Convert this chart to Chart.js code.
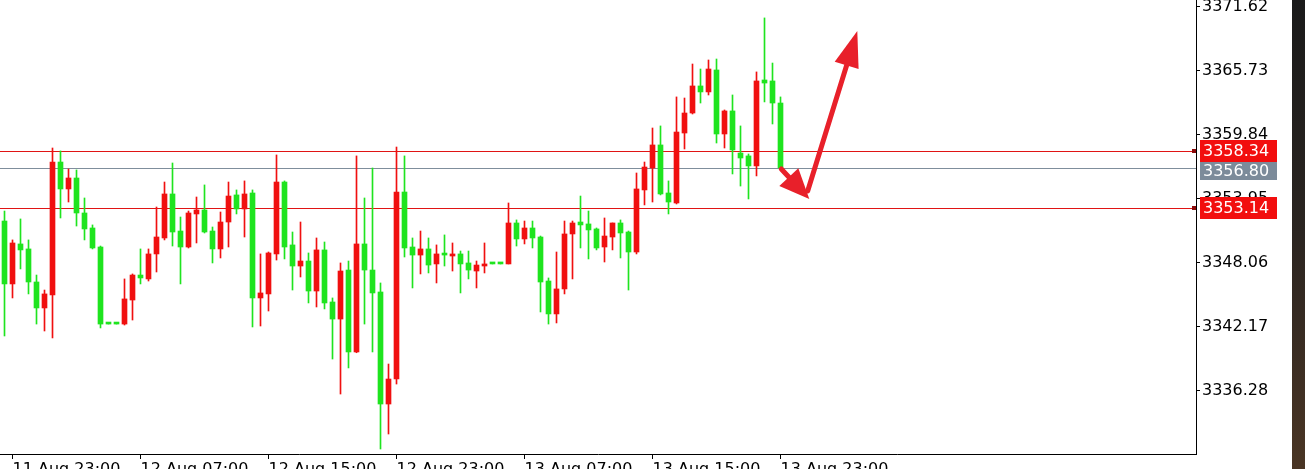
<!DOCTYPE html>
<html>
<head>
<meta charset="utf-8">
<script src="https://cdn.jsdelivr.net/npm/chart.js@4.4.0/dist/chart.umd.min.js"></script>
<style>
    html, body { margin: 0; padding: 0; background: #fff; overflow: hidden; width: 1305px; height: 469px; }
    #wrap { position: absolute; left: 0; top: 0; width: 1292px; height: 490px; }
    #edge { position: absolute; left: 1292px; top: 0; width: 13px; height: 469px;
            background: linear-gradient(#1a1a1a, #2b2521 50%, #4a3524); }
</style>
</head>
<body>
<div id="wrap"><canvas id="c" width="1292" height="490"></canvas></div>
<div id="edge"></div>
<script>
// XAUUSD M30, 11 Aug 22:30 -> 13 Aug 23:00
const opens = [
    3351.92, 3346.13, 3349.81, 3349.35, 3346.31, 3343.92, 3345.11, 3357.35, 3354.87, 3355.88,
    3352.66, 3351.28, 3349.53, 3342.44, 3342.44, 3342.44, 3344.65, 3346.95, 3346.59, 3348.89,
    3350.36, 3354.41, 3351.00, 3349.53, 3352.57, 3352.94, 3351.00, 3349.35, 3351.83, 3354.32,
    3353.03, 3354.50, 3344.84, 3345.21, 3348.89, 3355.51, 3349.72, 3347.78, 3348.24, 3345.48,
    3349.26, 3344.47, 3342.90, 3347.41, 3339.87, 3349.81, 3347.41, 3345.39, 3335.08, 3337.38,
    3354.59, 3349.53, 3348.79, 3349.35, 3347.97, 3348.89, 3348.70, 3348.89, 3348.06, 3347.32,
    3347.78, 3347.97, 3347.97, 3347.97, 3351.74, 3350.27, 3351.28, 3350.45, 3346.40, 3343.37,
    3345.67, 3350.73, 3351.83, 3351.65, 3351.19, 3349.53, 3350.45, 3351.74, 3350.91, 3349.07,
    3354.78, 3356.80, 3358.92, 3354.50, 3353.58, 3360.02, 3361.86, 3364.35, 3363.80, 3365.82,
    3359.93, 3362.05, 3358.18, 3357.91, 3356.99, 3364.90, 3364.81, 3362.78
];
const highs = [
    3352.84, 3350.18, 3352.11, 3350.18, 3346.95, 3345.57, 3358.64, 3358.37, 3356.71, 3356.62,
    3354.04, 3351.56, 3349.62, 3342.44, 3342.44, 3346.59, 3347.05, 3349.35, 3349.35, 3353.21,
    3355.51, 3357.26, 3352.29, 3352.84, 3354.13, 3355.24, 3351.37, 3352.75, 3355.51, 3354.78,
    3355.61, 3354.78, 3348.89, 3349.07, 3358.00, 3355.61, 3350.91, 3351.83, 3348.98, 3350.36,
    3349.99, 3344.84, 3348.06, 3348.24, 3357.91, 3354.04, 3356.80, 3346.22, 3338.76, 3358.73,
    3357.91, 3350.36, 3351.00, 3350.36, 3349.72, 3350.64, 3349.90, 3349.16, 3349.16, 3348.24,
    3349.90, 3347.97, 3347.97, 3353.58, 3352.02, 3351.92, 3351.92, 3350.54, 3346.68, 3349.07,
    3351.92, 3351.92, 3354.22, 3352.84, 3351.28, 3352.20, 3351.74, 3352.02, 3351.00, 3356.34,
    3357.35, 3360.48, 3360.67, 3355.61, 3363.34, 3363.24, 3366.37, 3365.91, 3366.74, 3366.83,
    3362.14, 3363.52, 3360.67, 3358.09, 3365.64, 3370.61, 3366.46, 3363.34
];
const lows = [
    3341.34, 3344.84, 3347.51, 3345.21, 3342.44, 3341.80, 3341.16, 3352.20, 3353.67, 3351.46,
    3350.18, 3349.35, 3342.08, 3342.44, 3342.44, 3342.35, 3342.81, 3346.13, 3346.40, 3347.23,
    3350.18, 3349.62, 3346.13, 3349.44, 3349.90, 3350.82, 3348.06, 3348.52, 3349.53, 3352.57,
    3350.45, 3342.17, 3342.26, 3343.64, 3348.33, 3348.43, 3345.57, 3346.77, 3344.38, 3344.01,
    3343.83, 3339.22, 3336.00, 3338.40, 3339.80, 3342.44, 3339.87, 3330.94, 3332.32, 3336.92,
    3348.61, 3345.76, 3347.05, 3347.14, 3346.22, 3347.78, 3347.32, 3345.30, 3346.59, 3345.76,
    3347.14, 3347.97, 3347.97, 3347.97, 3349.62, 3349.81, 3349.44, 3343.55, 3342.44, 3342.54,
    3345.21, 3346.59, 3349.44, 3348.43, 3349.26, 3348.15, 3349.26, 3348.52, 3345.57, 3348.89,
    3353.40, 3353.67, 3354.32, 3352.57, 3353.49, 3358.55, 3361.77, 3362.78, 3363.52, 3359.10,
    3358.64, 3356.25, 3355.14, 3353.95, 3356.07, 3362.88, 3360.85, 3356.80
];
const closes = [
    3346.13, 3349.90, 3349.26, 3346.31, 3343.92, 3345.21, 3357.35, 3354.87, 3355.88, 3352.66,
    3351.19, 3349.44, 3342.44, 3342.44, 3342.44, 3344.75, 3346.95, 3346.68, 3348.89, 3350.45,
    3354.41, 3350.91, 3349.53, 3352.66, 3352.94, 3350.91, 3349.35, 3351.83, 3354.22, 3353.03,
    3354.41, 3344.84, 3345.30, 3348.98, 3355.51, 3349.53, 3347.78, 3348.24, 3345.48, 3349.26,
    3344.38, 3342.90, 3347.32, 3339.87, 3349.81, 3347.41, 3345.30, 3335.08, 3337.38, 3354.59,
    3349.44, 3348.79, 3349.35, 3347.87, 3348.89, 3348.79, 3348.89, 3347.97, 3347.41, 3347.87,
    3347.97, 3347.97, 3347.97, 3351.74, 3350.27, 3351.28, 3350.36, 3346.31, 3343.37, 3345.67,
    3350.73, 3351.74, 3351.56, 3351.10, 3349.44, 3350.54, 3351.74, 3350.82, 3349.07, 3354.87,
    3356.89, 3358.92, 3354.41, 3353.67, 3360.11, 3361.86, 3364.35, 3363.80, 3365.91, 3359.93,
    3362.05, 3358.46, 3357.72, 3356.99, 3364.81, 3364.62, 3362.78, 3356.80
];

// axis labels
const tickIndex = [1, 17, 33, 49, 65, 81, 97];
const tickLabels = ['11 Aug 23:00', '12 Aug 07:00', '12 Aug 15:00', '12 Aug 23:00',
                    '13 Aug 07:00', '13 Aug 15:00', '13 Aug 23:00'];
const priceTicks = [3371.62, 3365.73, 3359.84, 3353.95, 3348.06, 3342.17, 3336.28];

// horizontal levels and the current bid
const redLevels = [3358.34, 3353.14];
const bidLevel = 3356.80;

// hand drawn arrows: [barIndex, price] start and tip
const arrowFrom = [[97.1, 3356.71], [100.4, 3354.68]];
const arrowTo = [[100.6, 3353.95], [106.6, 3369.41]];

const UP = '#f01010';
const DOWN = '#1fe41f';
const ARROW = '#e8202a';
const FONT = { family: 'DejaVu Sans', size: 16 };

const candleColors = opens.map((o, i) => closes[i] > o ? UP : DOWN);

function drawArrow(ctx, x1, y1, x2, y2, headLen, headW) {
    const a = Math.atan2(y2 - y1, x2 - x1);
    const bx = x2 - Math.cos(a) * headLen, by = y2 - Math.sin(a) * headLen;
    ctx.save();
    ctx.strokeStyle = ARROW;
    ctx.fillStyle = ARROW;
    ctx.lineWidth = 5;
    ctx.lineCap = 'round';
    ctx.beginPath();
    ctx.moveTo(x1, y1);
    ctx.lineTo(bx + Math.cos(a) * 4, by + Math.sin(a) * 4);
    ctx.stroke();
    const nx = -Math.sin(a) * headW / 2, ny = Math.cos(a) * headW / 2;
    ctx.beginPath();
    ctx.moveTo(x2, y2);
    ctx.lineTo(bx + nx, by + ny);
    ctx.lineTo(bx - nx, by - ny);
    ctx.closePath();
    ctx.fill();
    ctx.restore();
}

function priceBox(ctx, left, top, h, bg, text) {
    ctx.fillStyle = bg;
    ctx.fillRect(left, top, 77, h);
    ctx.fillStyle = '#ffffff';
    ctx.font = '16px "DejaVu Sans"';
    ctx.textAlign = 'left';
    ctx.textBaseline = 'middle';
    ctx.fillText(text, left + 3, top + h / 2 + 1);
}

const overlays = {
    id: 'overlays',
    beforeDatasetsDraw(chart) {
        const { ctx, chartArea, scales } = chart;
        ctx.save();
        ctx.lineWidth = 1;
        redLevels.forEach(v => {
            const y = Math.round(scales.y.getPixelForValue(v)) + 0.5;
            ctx.strokeStyle = '#e01414';
            ctx.beginPath(); ctx.moveTo(chartArea.left, y); ctx.lineTo(chartArea.right, y); ctx.stroke();
        });
        const yb = Math.round(scales.y.getPixelForValue(bidLevel)) + 0.5;
        ctx.strokeStyle = '#7f8e9c';
        ctx.beginPath(); ctx.moveTo(chartArea.left, yb); ctx.lineTo(chartArea.right, yb); ctx.stroke();
        ctx.restore();
    },
    afterDraw(chart) {
        const { ctx, chartArea, scales } = chart;
        const xs = scales.x, ys = scales.y;
        ctx.save();
        arrowFrom.forEach((f, k) => {
            const t = arrowTo[k];
            drawArrow(ctx, xs.getPixelForValue(f[0]), ys.getPixelForValue(f[1]),
                      xs.getPixelForValue(t[0]), ys.getPixelForValue(t[1]),
                      k === 0 ? 30 : 36, k === 0 ? 26 : 25);
        });
        const left = ys.left + 4;
        const y0 = Math.round(ys.getPixelForValue(redLevels[0]));
        const y1 = Math.round(ys.getPixelForValue(redLevels[1]));
        const yb = Math.round(ys.getPixelForValue(bidLevel));
        priceBox(ctx, left, y0 - 11, 22, '#f20e0e', redLevels[0].toFixed(2));
        priceBox(ctx, left, Math.max(yb - 9, y0 + 11), 18, '#7c8b9a', bidLevel.toFixed(2));
        priceBox(ctx, left, y1 - 11, 22, '#f20e0e', redLevels[1].toFixed(2));
        ctx.fillStyle = '#8a0a0a';
        [y0, y1].forEach(y => ctx.fillRect(chartArea.right - 4, y - 2, 4, 4));
        ctx.restore();
    }
};

new Chart(document.getElementById('c'), {
    type: 'bar',
    data: {
        datasets: [{
            label: 'wick',
            data: highs.map((h, i) => ({ x: i, y: [lows[i], h] })),
            backgroundColor: candleColors,
            barThickness: 1,
            grouped: false,
            minBarLength: 1
        }, {
            label: 'body',
            data: opens.map((o, i) => ({ x: i, y: [o, closes[i]] })),
            backgroundColor: candleColors,
            barThickness: 5,
            grouped: false,
            minBarLength: 2
        }]
    },
    options: {
        responsive: false,
        animation: false,
        layout: { padding: 0 },
        plugins: { legend: { display: false }, tooltip: { enabled: false } },
        scales: {
            x: {
                type: 'linear',
                min: -0.5625,
                max: -0.5625 + 1196 / 8,
                offset: false,
                grid: { drawOnChartArea: false, offset: false, tickLength: 5, color: '#000' },
                border: { display: true, color: '#000' },
                ticks: {
                    autoSkip: false, maxRotation: 0, align: 'start', padding: 1,
                    color: '#000', font: FONT,
                    callback: v => { const k = tickIndex.indexOf(v); return k < 0 ? '' : tickLabels[k]; }
                },
                afterBuildTicks: s => { s.ticks = tickIndex.map(v => ({ value: v })); },
                afterFit: s => { s.height = 36; s.paddingLeft = 0; s.paddingRight = 0; }
            },
            y: {
                type: 'linear',
                position: 'right',
                min: 3330.48,
                max: 3372.26,
                grid: { drawOnChartArea: false, tickLength: 4, color: '#000' },
                border: { display: true, color: '#000' },
                ticks: { padding: 2, color: '#000', font: FONT, callback: v => v.toFixed(2) },
                afterBuildTicks: s => { s.ticks = priceTicks.map(v => ({ value: v })); },
                afterFit: s => { s.width = 96; s.paddingTop = 0; s.paddingBottom = 0; }
            }
        }
    },
    plugins: [overlays]
});
</script>
</body>
</html>
